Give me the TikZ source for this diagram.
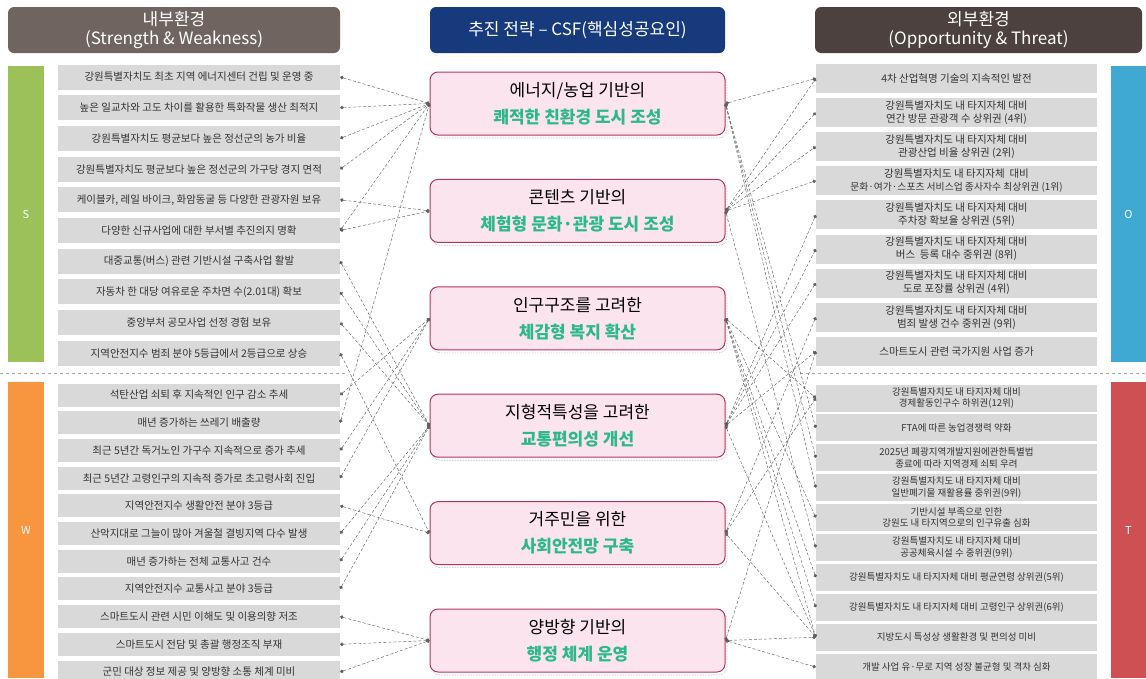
\documentclass[tikz,border=0pt]{standalone}
\usepackage{fontspec}
\setmainfont{Noto Sans CJK KR}
\usetikzlibrary{arrows.meta,positioning,shadows}
\definecolor{InBrown}{HTML}{6F6460}
\definecolor{OutBrown}{HTML}{4C413E}
\definecolor{NavyHead}{HTML}{173A7C}
\definecolor{SGreen}{HTML}{9CC158}
\definecolor{WOrange}{HTML}{F7963F}
\definecolor{OBlue}{HTML}{3FA9D3}
\definecolor{TRed}{HTML}{CF5052}
\definecolor{ItemGray}{HTML}{D9D9D9}
\definecolor{ItemText}{HTML}{333333}
\definecolor{CsfFill}{HTML}{FCE4EE}
\definecolor{CsfLine}{HTML}{B3355F}
\definecolor{CsfGreen}{HTML}{2BB98A}
\newcommand{\csftext}[2]{#1\\{\bfseries\color{CsfGreen}#2}}

\begin{document}
\begin{tikzpicture}[
  x=1pt, y=-1pt,
  hdr/.style={rounded corners=6pt, text=white, align=center, minimum height=46pt, inner sep=1pt, font=\fontsize{17}{18.5}\selectfont},
  bar/.style={minimum width=36pt, inner sep=0pt, text=white, font=\fontsize{11}{12}\selectfont},
  item/.style={fill=ItemGray, text=ItemText, inner sep=1pt, align=center},
  sitem/.style={item, minimum width=282pt, minimum height=25pt, font=\fontsize{10.5}{12}\selectfont},
  witem/.style={item, minimum width=282pt, minimum height=23pt, font=\fontsize{10.5}{12}\selectfont},
  oitem/.style={item, minimum width=281pt, minimum height=29pt, font=\fontsize{10.5}{13}\selectfont},
  titem/.style={item, minimum width=281pt, minimum height=27pt, font=\fontsize{9.5}{11.5}\selectfont},
  csf/.style={draw=CsfLine, line width=1pt, fill=CsfFill, rounded corners=8pt, minimum width=295pt, minimum height=63pt, align=center, font=\fontsize{17}{27}\selectfont,
    general shadow={draw=gray!70, densely dotted, line width=0.6pt, shadow xshift=2pt, shadow yshift=-3pt}},
  link/.style={densely dashed, draw=gray!75!black, line width=0.45pt, {Circle[length=3.5pt]}-{Circle[length=3.5pt]}},
  sep/.style={dashed, draw=gray!70, line width=0.7pt}
]
\useasboundingbox (0,0) rectangle (1146,678);

% headers
\node[hdr, fill=InBrown, minimum width=332pt] (inhdr) at (174,30) {내부환경\\(Strength \& Weakness)};
\node[hdr, fill=NavyHead, minimum width=295pt, general shadow={draw=gray!70, densely dotted, shadow xshift=2pt, shadow yshift=-3pt}] (csfhdr) at (577.5,30) {추진 전략 – CSF(핵심성공요인)};
\node[hdr, fill=OutBrown, minimum width=327pt] (outhdr) at (978.5,30) {외부환경\\(Opportunity \& Threat)};

% side bars
\node[bar, fill=SGreen, minimum height=296pt] (sbar) at (26,214) {S};
\node[bar, fill=WOrange, minimum height=296pt] (wbar) at (26,530) {W};
\node[bar, fill=OBlue, minimum height=296pt] (obar) at (1128.5,214) {O};
\node[bar, fill=TRed, minimum height=296pt] (tbar) at (1128.5,530) {T};

\draw[sep] (0,373) -- (345,373);
\draw[sep] (800,373) -- (1146,373);

% strengths
\begin{scope}[node distance=5.3pt]
\node[sitem] (s1) at (199,77) {강원특별자치도 최초 지역 에너지센터 건립 및 운영 중};
\node[sitem, below=of s1] (s2) {높은 일교차와 고도 차이를 활용한 특화작물 생산 최적지};
\node[sitem, below=of s2] (s3) {강원특별자치도 평균보다 높은 정선군의 농가 비율};
\node[sitem, below=of s3] (s4) {강원특별자치도 평균보다 높은 정선군의 가구당 경지 면적};
\node[sitem, below=of s4] (s5) {케이블카, 레일 바이크, 화암동굴 등 다양한 관광자원 보유};
\node[sitem, below=of s5] (s6) {다양한 신규사업에 대한 부서별 추진의지 명확};
\node[sitem, below=of s6] (s7) {대중교통(버스) 관련 기반시설 구축사업 활발};
\node[sitem, below=of s7] (s8) {자동차 한 대당 여유로운 주차면 수(2.01대) 확보};
\node[sitem, below=of s8] (s9) {중앙부처 공모사업 선정 경험 보유};
\node[sitem, below=of s9] (s10) {지역안전지수 범죄 분야 5등급에서 2등급으로 상승};
\end{scope}

% weaknesses
\begin{scope}[node distance=4.3pt]
\node[witem] (w1) at (199,395) {석탄산업 쇠퇴 후 지속적인 인구 감소 추세};
\node[witem, below=of w1] (w2) {매년 증가하는 쓰레기 배출량};
\node[witem, below=of w2] (w3) {최근 5년간 독거노인 가구수 지속적으로 증가 추세};
\node[witem, below=of w3] (w4) {최근 5년간 고령인구의 지속적 증가로 초고령사회 진입};
\node[witem, below=of w4] (w5) {지역안전지수 생활안전 분야 3등급};
\node[witem, below=of w5] (w6) {산악지대로 그늘이 많아 겨울철 결빙지역 다수 발생};
\node[witem, below=of w6] (w7) {매년 증가하는 전체 교통사고 건수};
\node[witem, below=of w7] (w8) {지역안전지수 교통사고 분야 3등급};
\node[witem, below=of w8] (w9) {스마트도시 관련 시민 이해도 및 이용의향 저조};
\node[witem, below=of w9] (w10) {스마트도시 전담 및 총괄 행정조직 부재};
\node[witem, below=of w10] (w11) {군민 대상 정보 제공 및 양방향 소통 체계 미비};
\end{scope}

% opportunities
\begin{scope}[node distance=4.7pt]
\node[oitem] (o1) at (956.5,78.5) {4차 산업혁명 기술의 지속적인 발전};
\node[oitem, below=of o1] (o2) {강원특별자치도 내 타지자체 대비\\연간 방문 관광객 수 상위권 (4위)};
\node[oitem, below=of o2] (o3) {강원특별자치도 내 타지자체 대비\\관광산업 비율 상위권 (2위)};
\node[oitem, below=of o3] (o4) {강원특별자치도 내 타지자체 \ 대비\\{\fontsize{9.8}{13}\selectfont 문화·여가·스포츠 서비스업 종사자수 최상위권 (1위)}};
\node[oitem, below=of o4] (o5) {강원특별자치도 내 타지자체 대비\\주차장 확보율 상위권 (5위)};
\node[oitem, below=of o5] (o6) {강원특별자치도 내 타지자체 대비\\버스 \ 등록 대수 중위권 (8위)};
\node[oitem, below=of o6] (o7) {강원특별자치도 내 타지자체 대비\\도로 포장률 상위권 (4위)};
\node[oitem, below=of o7] (o8) {강원특별자치도 내 타지자체 대비\\범죄 발생 건수 중위권 (9위)};
\node[oitem, below=of o8] (o9) {스마트도시 관련 국가지원 사업 증가};
\end{scope}

% threats
\begin{scope}[node distance=2.5pt]
\node[titem] (t1) at (956.5,398) {강원특별자치도 내 타지자체 대비\\경제활동인구수 하위권(12위)};
\node[titem, below=of t1] (t2) {FTA에 따른 농업경쟁력 약화};
\node[titem, below=of t2] (t3) {2025년 폐광지역개발지원에관한특별법\\종료에 따라 지역경제 쇠퇴 우려};
\node[titem, below=of t3] (t4) {강원특별자치도 내 타지자체 대비\\일반폐기물 재활용률 중위권(9위)};
\node[titem, below=of t4] (t5) {기반시설 부족으로 인한\\강원도 내 타지역으로의 인구유출 심화};
\node[titem, below=of t5] (t6) {강원특별자치도 내 타지자체 대비\\공공체육시설 수 중위권(9위)};
\node[titem, below=of t6] (t7) {강원특별자치도 내 타지자체 대비 평균연령 상위권(5위)};
\node[titem, below=of t7] (t8) {강원특별자치도 내 타지자체 대비 고령인구 상위권(6위)};
\node[titem, below=of t8] (t9) {지방도시 특성상 생활환경 및 편의성 미비};
\node[titem, below=of t9] (t10) {개발 사업 유·무로 지역 성장 불균형 및 격차 심화};
\end{scope}

% critical success factors
\begin{scope}[node distance=43.4pt]
\node[csf] (c1) at (577.5,103.5) {\csftext{에너지/농업 기반의}{쾌적한 친환경 도시 조성}};
\node[csf, below=of c1] (c2) {\csftext{콘텐츠 기반의}{체험형 문화·관광 도시 조성}};
\node[csf, below=of c2] (c3) {\csftext{인구구조를 고려한}{체감형 복지 확산}};
\node[csf, below=of c3] (c4) {\csftext{지형적특성을 고려한}{교통편의성 개선}};
\node[csf, below=of c4] (c5) {\csftext{거주민을 위한}{사회안전망 구축}};
\node[csf, below=of c5] (c6) {\csftext{양방향 기반의}{행정 체계 운영}};
\end{scope}

% links, inside
\draw[link] (s1.east) -- (c1.west);
\draw[link] (s2.east) -- (c1.west);
\draw[link] (s3.east) -- (c1.west);
\draw[link] (s4.east) -- (c1.west);
\draw[link] (s5.east) -- (c2.west);
\draw[link] (s6.east) -- (c1.west);
\draw[link] (s6.east) -- (c2.west);
\draw[link] (s7.east) -- (c4.west);
\draw[link] (s8.east) -- (c4.west);
\draw[link] (s9.east) -- (c4.west);
\draw[link] (s10.east) -- (c5.west);
\draw[link] (w1.east) -- (c3.west);
\draw[link] (w2.east) -- (c1.west);
\draw[link] (w3.east) -- (c3.west);
\draw[link] (w4.east) -- (c3.west);
\draw[link] (w5.east) -- (c5.west);
\draw[link] (w6.east) -- (c4.west);
\draw[link] (w7.east) -- (c4.west);
\draw[link] (w8.east) -- (c4.west);
\draw[link] (w9.east) -- (c6.west);
\draw[link] (w10.east) -- (c6.west);
\draw[link] (w11.east) -- (c6.west);

% links, outside
\draw[link] (c1.east) -- (o1.west);
\draw[link] (c1.east) -- (t2.west);
\draw[link] (c1.east) -- (t3.west);
\draw[link] (c1.east) -- (t4.west);
\draw[link] (c2.east) -- (o1.west);
\draw[link] (c2.east) -- (o2.west);
\draw[link] (c2.east) -- (o3.west);
\draw[link] (c2.east) -- (o4.west);
\draw[link] (c2.east) -- (t6.west);
\draw[link] (c3.east) -- (t1.west);
\draw[link] (c3.east) -- (t5.west);
\draw[link] (c3.east) -- (t7.west);
\draw[link] (c3.east) -- (t8.west);
\draw[link] (c3.east) -- (t9.west);
\draw[link] (c4.east) -- (o5.west);
\draw[link] (c4.east) -- (o6.west);
\draw[link] (c4.east) -- (o7.west);
\draw[link] (c4.east) -- (o9.west);
\draw[link] (c4.east) -- (t9.west);
\draw[link] (c5.east) -- (o8.west);
\draw[link] (c5.east) -- (t1.west);
\draw[link] (c5.east) -- (t9.west);
\draw[link] (c6.east) -- (o9.west);
\draw[link] (c6.east) -- (t9.west);
\draw[link] (c6.east) -- (t10.west);
\end{tikzpicture}
\end{document}
